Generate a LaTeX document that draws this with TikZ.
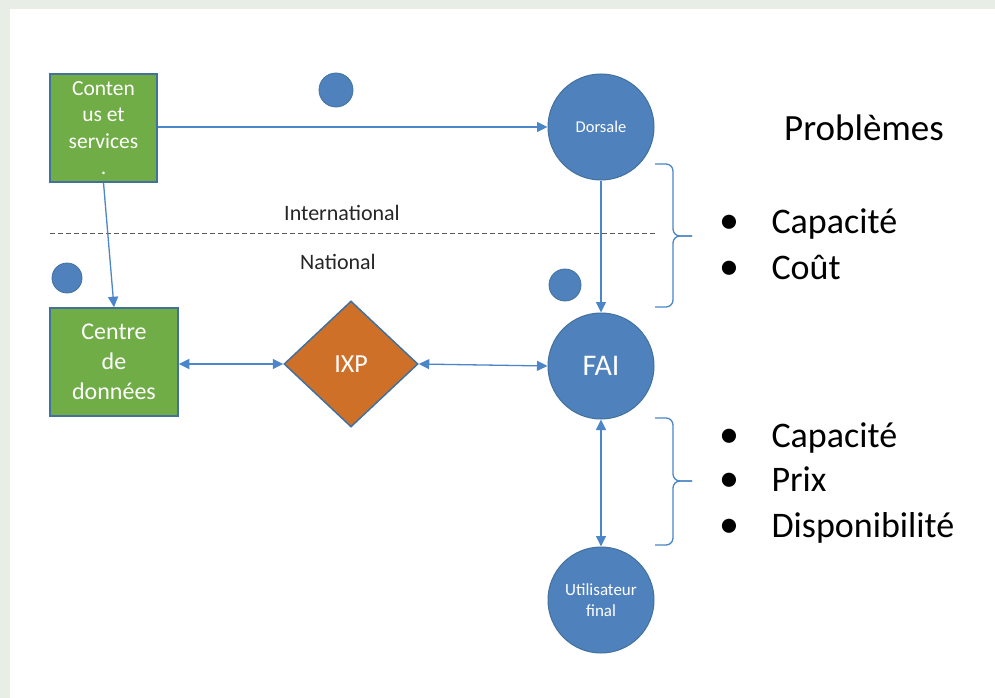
\documentclass[tikz,border=0pt]{standalone}
\usepackage{fontspec}
\setmainfont{Carlito}
\usepackage{tikz}
\usetikzlibrary{shapes.geometric,arrows.meta,positioning,calc}

\definecolor{pagegray}{HTML}{E8EDE6}
\definecolor{boxgreen}{HTML}{70AD47}
\definecolor{edgeblue}{HTML}{41719C}
\definecolor{bubbleblue}{HTML}{4F81BD}
\definecolor{linkblue}{HTML}{4A86C8}
\definecolor{ixporange}{HTML}{CF7029}

\begin{document}
\begin{tikzpicture}[x=1pt,y=-1pt,
    box/.style={draw=edgeblue, line width=1.5pt, fill=boxgreen, text=white,
        minimum width=107pt, minimum height=108pt, inner sep=0pt, align=center},
    bubble/.style={circle, draw=edgeblue, line width=1pt, fill=bubbleblue, text=white,
        minimum size=106pt, inner sep=0pt, align=center},
    blob/.style={circle, draw=edgeblue, line width=0.8pt, fill=bubbleblue, inner sep=0pt},
    link/.style={draw=linkblue, line width=1.3pt, -{Triangle[length=10.5pt,width=10pt]}},
    twoway/.style={link, {Triangle[length=10.5pt,width=10pt]}-{Triangle[length=10.5pt,width=10pt]}},
    bracket/.style={draw=linkblue, line width=1.3pt, rounded corners=7pt},
    item/.style={anchor=base west, font=\fontsize{36}{36}\selectfont},
    bullet/.style={anchor=base, font=\fontsize{40}{40}\selectfont}]

    % Page
    \fill[pagegray] (0,0) rectangle (995,698);
    \fill[white] (10,9) rectangle (995,698);
    \useasboundingbox (0,0) rectangle (995,698);

    % Nodes
    \node[box, font=\fontsize{21.5}{26.5}\selectfont] (contenus) at (103.5,128) {Conten\\us et\\services\\.};
    \node[box, minimum width=128pt, font=\fontsize{24}{30}\selectfont] (centre) at (114,362) {Centre\\de\\données};
    \node[diamond, draw=edgeblue, fill=ixporange, line width=1.5pt, minimum width=134pt,
        minimum height=126pt, inner sep=0pt, text=white, font=\fontsize{26}{26}\selectfont] (ixp) at (351,364) {IXP};
    \node[bubble, font=\fontsize{16.5}{20}\selectfont] (dorsale) at (601,127) {Dorsale};
    \node[bubble, font=\fontsize{30}{30}\selectfont] (fai) at (601,366) {FAI};
    \node[bubble, font=\fontsize{17}{21}\selectfont] (user) at (601,600) {Utilisateur\\final};

    % Small circles
    \node[blob, minimum size=34pt] (blobtop) at (336,90) {};
    \node[blob, minimum size=30pt] (blobleft) at (67,278) {};
    \node[blob, minimum size=32pt] (blobfai) at (565,285) {};

    % Border between international and national
    \coordinate (borderL) at (50,233);
    \coordinate (borderR) at (655,233);
    \draw[black!65, line width=1pt, dash pattern=on 5pt off 3pt] (borderL) -- (borderR);
    \node[font=\fontsize{22}{22}\selectfont, black!85] (intl) at (342,213) {International};
    \node[font=\fontsize{22}{22}\selectfont, black!85] (natl) at (338,262) {National};

    % Connectors
    \draw[link] (contenus.east |- dorsale) -- (dorsale.west);
    \draw[link] (contenus.south) -- (centre.north);
    \draw[twoway] (centre.east |- ixp) -- (ixp.west);
    \draw[twoway] (ixp.east) -- (fai.west);
    \draw[link] (dorsale.south) -- (fai.north);
    \draw[twoway] (fai.south) -- (user.north);

    % Braces
    \draw[bracket] (655,164) -- (673,164) -- (673,236) -- (692,236);
    \draw[bracket] (655,307) -- (673,307) -- (673,236) -- (692,236);
    \draw[bracket] (655,418) -- (673,418) -- (673,481) -- (692,481);
    \draw[bracket] (655,545) -- (673,545) -- (673,481) -- (692,481);

    % Problems
    \node[font=\fontsize{37}{37}\selectfont, anchor=base] (titre) at (864,140) {Problèmes};
    \node[item] (cap1) at (768,233) {Capacité};
    \node[item] (cout) at (768,279) {Coût};
    \node[item] (cap2) at (768,447) {Capacité};
    \node[item] (prix) at (768,491) {Prix};
    \node[item] (dispo) at (768,537) {Disponibilité};
    \foreach \y in {233,279,447,491,537}
        \node[bullet] at (729,\y) {•};
\end{tikzpicture}
\end{document}
